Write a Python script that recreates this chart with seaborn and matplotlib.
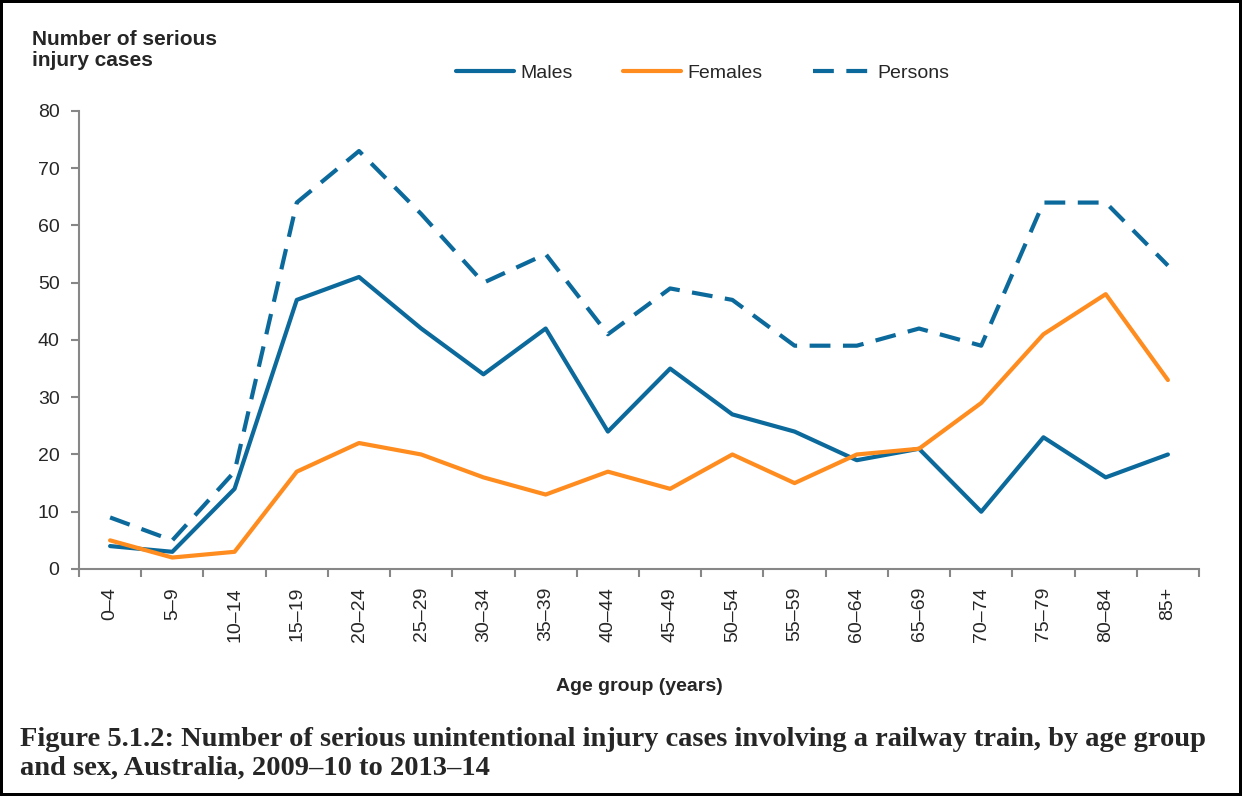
import numpy as np
import pandas as pd
import matplotlib
matplotlib.use('Agg')
import matplotlib.pyplot as plt
import seaborn as sns

# chart data
age_groups = ['0–4', '5–9', '10–14', '15–19', '20–24', '25–29', '30–34', '35–39', '40–44',
              '45–49', '50–54', '55–59', '60–64', '65–69', '70–74', '75–79', '80–84', '85+']
males = [4, 3, 14, 47, 51, 42, 34, 42, 24, 35, 27, 24, 19, 21, 10, 23, 16, 20]
females = [5, 2, 3, 17, 22, 20, 16, 13, 17, 14, 20, 15, 20, 21, 29, 41, 48, 33]
persons = [9, 5, 17, 64, 73, 62, 50, 55, 41, 49, 47, 39, 39, 42, 39, 64, 64, 53]
series_names = ['Males', 'Females', 'Persons']
y_ticks = [0, 10, 20, 30, 40, 50, 60, 70, 80]

# long format for seaborn
df = pd.DataFrame({
    'Age': age_groups * 3,
    'Cases': males + females + persons,
    'Series': [s for s in series_names for _ in age_groups],
})

sns.set_style('white')
plt.rcParams['font.family'] = ['Liberation Sans', 'DejaVu Sans']

blue = '#0b6a9b'
orange = '#ff8c1f'
grey = '#878787'

fig = plt.figure(figsize=(12.42, 7.96), dpi=100)
fig.patch.set_edgecolor('black')
fig.patch.set_linewidth(3)
ax = fig.add_axes([0.0636, 0.2852, 0.9018, 0.5754])

sns.lineplot(data=df, x='Age', y='Cases', hue='Series', style='Series', sort=False,
             palette={'Males': blue, 'Females': orange, 'Persons': blue},
             dashes={'Males': '', 'Females': '', 'Persons': (5, 3)},
             linewidth=3, ax=ax)

ax.set_xlim(-0.5, len(age_groups) - 0.5)
ax.set_ylim(0, 80)
ax.set_yticks(y_ticks)
ax.set_xticks(np.arange(len(age_groups)))
ax.set_xticklabels(age_groups, rotation=90)
ax.set_xticks(np.arange(len(age_groups) + 1) - 0.5, minor=True)
ax.tick_params(axis='x', which='major', length=0, pad=13, labelsize=14)
ax.tick_params(axis='x', which='minor', length=6, width=1.5, color=grey, direction='out')
ax.tick_params(axis='y', length=6, width=1.5, color=grey, direction='out', pad=8, labelsize=14)
ax.tick_params(bottom=True, left=True, which='both')
for side in ['top', 'right']:
    ax.spines[side].set_visible(False)
for side in ['left', 'bottom']:
    ax.spines[side].set_color(grey)
    ax.spines[side].set_linewidth(1.5)

ax.set_xlabel('Age group (years)', fontsize=14, fontweight='bold', labelpad=26)
ax.set_ylabel('')

# legend across the top
handles, labels = ax.get_legend_handles_labels()
ax.legend(handles, labels, loc='center', bbox_to_anchor=(0.5656, 0.908),
          bbox_transform=fig.transFigure, ncol=3, frameon=False, fontsize=14,
          handlelength=3.0, handletextpad=0.3, columnspacing=2.6)

fig.text(0.026, 0.962, 'Number of serious\ninjury cases', fontsize=15, fontweight='bold',
         va='top', ha='left', linespacing=1.1)

fig.text(0.016, 0.019, 'Figure 5.1.2: Number of serious unintentional injury cases involving a railway train, by age group\n'
         'and sex, Australia, 2009–10 to 2013–14',
         fontsize=20.5, fontweight='bold', family=['Liberation Serif', 'DejaVu Serif'],
         ha='left', va='bottom', linespacing=1.2)

plt.savefig('out.png', dpi=100)
plt.close()
